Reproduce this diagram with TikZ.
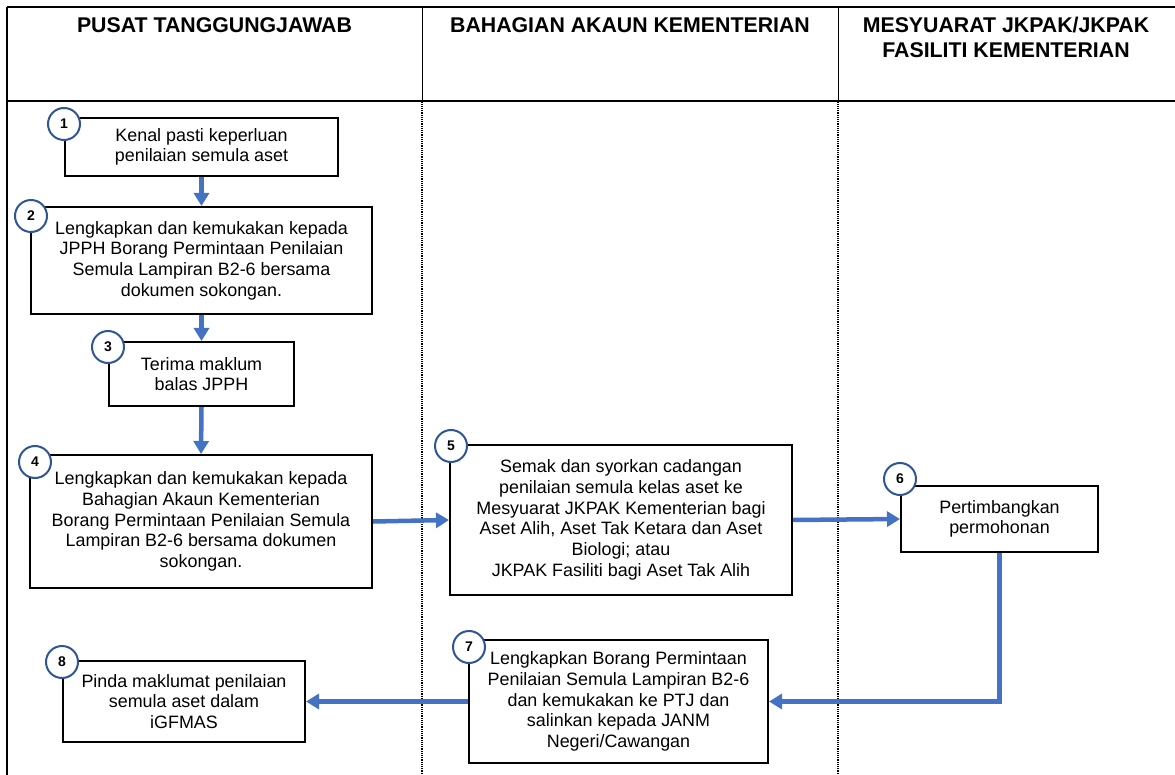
\documentclass[tikz,border=0pt]{standalone}
\usepackage{fontspec}
\setmainfont{Liberation Sans}
\usetikzlibrary{arrows.meta}
\definecolor{flowblue}{HTML}{4472C4}
\definecolor{ringblue}{HTML}{2F5597}
\begin{document}
\begin{tikzpicture}[x=1pt,y=-1pt,
  stepbox/.style={draw=black, line width=2pt, fill=white, align=center, inner sep=0pt,
    font=\fontsize{17.9}{20.7}\selectfont},
  numring/.style={circle, draw=ringblue, line width=2pt, fill=white, minimum size=32pt,
    inner sep=0pt, font=\fontsize{14}{14}\selectfont\bfseries},
  flow/.style={draw=flowblue, line width=4.5pt, -{Triangle[width=15pt,length=13pt]}},
  head/.style={anchor=north, inner sep=0pt, align=center,
    font=\fontsize{21.3}{25}\selectfont\bfseries},
  rule/.style={draw=black, line width=2pt},
  lanesep/.style={draw=black, line width=1pt},
  lanedot/.style={draw=black, line width=1.2pt, densely dotted}
]
\useasboundingbox (0,0) rectangle (1175,775);

% table frame and swimlane separators
\draw[rule] (7,7) -- (1175,7);
\draw[rule] (7,101.5) -- (1175,101.5);
\draw[rule] (7,7) -- (7,775);
\draw[lanesep] (422,7) -- (422,101.5);
\draw[lanesep] (838,7) -- (838,101.5);
\draw[lanedot] (422,101.5) -- (422,775);
\draw[lanedot] (838,101.5) -- (838,775);

% lane headings
\node[head] (h1) at (214.5,17) {PUSAT TANGGUNGJAWAB};
\node[head] (h2) at (630,17) {BAHAGIAN AKAUN KEMENTERIAN};
\node[head] (h3) at (1006,17) {MESYUARAT JKPAK/JKPAK\\FASILITI KEMENTERIAN};

% process steps
\node[stepbox, minimum width=273pt, minimum height=58pt] (b1) at (201.5,147)
  {Kenal pasti keperluan\\penilaian semula aset};
\node[stepbox, minimum width=341pt, minimum height=107pt] (b2) at (201.5,260.5)
  {Lengkapkan dan kemukakan kepada\\JPPH Borang Permintaan Penilaian\\Semula Lampiran B2-6 bersama\\dokumen sokongan.};
\node[stepbox, minimum width=185pt, minimum height=64pt] (b3) at (201.5,374)
  {Terima maklum\\balas JPPH};
\node[stepbox, minimum width=342pt, minimum height=133pt] (b4) at (201,521.5)
  {Lengkapkan dan kemukakan kepada\\Bahagian Akaun Kementerian\\Borang Permintaan Penilaian Semula\\Lampiran B2-6 bersama dokumen\\sokongan.};
\node[stepbox, minimum width=342pt, minimum height=150pt] (b5) at (621,520)
  {Semak dan syorkan cadangan\\penilaian semula kelas aset ke\\Mesyuarat JKPAK Kementerian bagi\\Aset Alih, Aset Tak Ketara dan Aset\\Biologi; atau\\JKPAK Fasiliti bagi Aset Tak Alih};
\node[stepbox, minimum width=197pt, minimum height=66pt] (b6) at (999.5,519)
  {Pertimbangkan\\permohonan};
\node[stepbox, minimum width=299pt, minimum height=123pt] (b7) at (618.5,701.5)
  {Lengkapkan Borang Permintaan\\Penilaian Semula Lampiran B2-6\\dan kemukakan ke PTJ dan\\salinkan kepada JANM\\Negeri/Cawangan};
\node[stepbox, minimum width=242pt, minimum height=81pt] (b8) at (184,701.5)
  {Pinda maklumat penilaian\\semula aset dalam\\iGFMAS};

% step numbers
\node[numring] (n1) at (64,124) {1};
\node[numring] (n2) at (31,216) {2};
\node[numring] (n3) at (108,347) {3};
\node[numring] (n4) at (35,462) {4};
\node[numring] (n5) at (451,446) {5};
\node[numring] (n6) at (900,479) {6};
\node[numring] (n7) at (469,647) {7};
\node[numring] (n8) at (62,662) {8};

% flow
\draw[flow] (b1.south) -- (b2.north);
\draw[flow] (b2.south) -- (b3.north);
\draw[flow] (b3.south) -- (b4.north);
\draw[flow] (b4.east) -- (b5.west);
\draw[flow] (b5.east) -- (b6.west);
\draw[flow] (b6.south) |- (b7.east);
\draw[flow] (b7.west) -- (b8.east);
\end{tikzpicture}
\end{document}
